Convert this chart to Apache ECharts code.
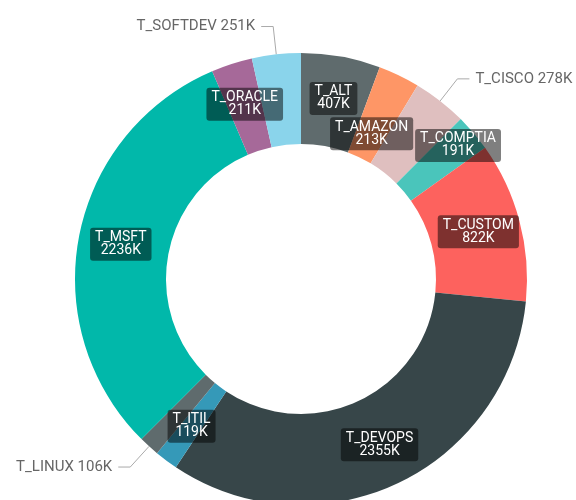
<!DOCTYPE html>
<html>
<head>
<meta charset="utf-8">
<script src="https://cdn.jsdelivr.net/npm/echarts@6/dist/echarts.min.js"></script>
<style>
  html, body { margin: 0; padding: 0; background: #fff; }
  #main { width: 576px; height: 500px; }
</style>
</head>
<body>
<div id="main"></div>
<script>
// 数据（单位：K）
var names = ['T_ALT', 'T_AMAZON', 'T_CISCO', 'T_COMPTIA', 'T_CUSTOM', 'T_DEVOPS',
             'T_ITIL', 'T_LINUX', 'T_MSFT', 'T_ORACLE', 'T_SOFTDEV'];
var values = [407, 213, 278, 191, 822, 2355, 119, 106, 2236, 211, 251];
var colors = ['#5F6B6D', '#FE9666', '#DFBFBF', '#4AC5BB', '#FD625E', '#374649',
              '#3599B8', '#5F6B6D', '#01B8AA', '#A66999', '#8AD4EB'];
// 放在环外面的标签
var outsideNames = ['T_CISCO', 'T_LINUX', 'T_SOFTDEV'];

// 两个内部标签稍微挪一下，避免重叠
var labelNudge = { T_AMAZON: [-9, 20], T_COMPTIA: [17, -15] };

var fontFamily = 'Roboto, "DejaVu Sans", sans-serif';

var myChart = echarts.init(document.getElementById('main'));

var pieData = names.map(function (n, i) {
    var item = { name: n, value: values[i], itemStyle: { color: colors[i] } };
    if (outsideNames.indexOf(n) >= 0) {
        item.label = {
            position: 'outside',
            formatter: '{b} {c}K',
            color: '#666666',
            fontSize: 15,
            backgroundColor: 'transparent',
            padding: 0,
            distanceToLabelLine: 6
        };
        item.labelLine = { show: true };
    }
    return item;
});

var option = {
    animation: false,
    series: [{
        type: 'pie',
        center: [301, 279],
        radius: [135, 226],
        startAngle: 90,
        clockwise: true,
        avoidLabelOverlap: false,
        itemStyle: { borderWidth: 0 },
        label: {
            show: true,
            position: 'inside',
            formatter: '{b}\n{c}K',
            fontFamily: fontFamily,
            fontSize: 14,
            lineHeight: 13,
            color: '#ffffff',
            backgroundColor: 'rgba(0,0,0,0.5)',
            borderRadius: 3,
            padding: [4, 5, 3, 5]
        },
        labelLine: {
            show: false,
            length: 28,
            length2: 12,
            lineStyle: { color: '#aaaaaa', width: 1 }
        },
        labelLayout: function (params) {
            var n = names[params.dataIndex];
            if (labelNudge[n]) {
                return { dx: labelNudge[n][0], dy: labelNudge[n][1] };
            }
            return {};
        },
        data: pieData
    }]
};

myChart.setOption(option);
</script>
</body>
</html>
